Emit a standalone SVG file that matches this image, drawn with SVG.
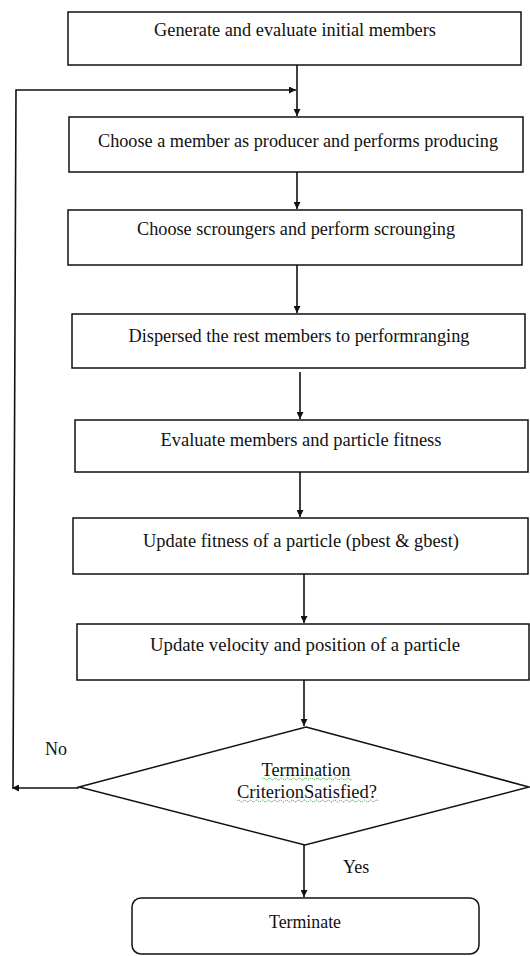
<svg xmlns="http://www.w3.org/2000/svg" width="530" height="956" viewBox="0 0 530 956">
<style>
.box{fill:#fff;stroke:#111;stroke-width:1.5}
.t{font-family:"Liberation Serif","Times New Roman",serif;font-size:18.5px;fill:#111;text-anchor:middle;lengthAdjust:spacingAndGlyphs}
.lbl{font-family:"Liberation Serif","Times New Roman",serif;font-size:18px;fill:#111}
.c{fill:none;stroke:#111;stroke-width:1.6}
.wave{fill:none;stroke:#3a3;stroke-width:1;stroke-dasharray:1.5 1}
</style>
<defs>
<marker id="ah" viewBox="0 0 10 10" refX="10" refY="5" markerWidth="7" markerHeight="7" orient="auto" markerUnits="userSpaceOnUse">
<path d="M0,0 L10,5 L0,10 z" fill="#111"/>
</marker>
</defs>
<rect width="530" height="956" fill="#fff"/>
<g id="connectors">
<line class="c" x1="297" y1="65" x2="297" y2="116" marker-end="url(#ah)"/>
<line class="c" x1="297" y1="172" x2="297" y2="209" marker-end="url(#ah)"/>
<line class="c" x1="297" y1="265" x2="297" y2="313" marker-end="url(#ah)"/>
<line class="c" x1="300" y1="372" x2="300" y2="419" marker-end="url(#ah)"/>
<line class="c" x1="300" y1="472" x2="300" y2="517" marker-end="url(#ah)"/>
<line class="c" x1="304" y1="574" x2="304" y2="623" marker-end="url(#ah)"/>
<line class="c" x1="304" y1="680" x2="304" y2="726" marker-end="url(#ah)"/>
<line class="c" x1="304" y1="845" x2="304" y2="897" marker-end="url(#ah)"/>
<line class="c" x1="79" y1="788" x2="12" y2="788" marker-end="url(#ah)"/>
<polyline class="c" points="13,788 16,90 296,90" marker-end="url(#ah)"/>
</g>
<g id="n1"><rect class="box" x="68" y="12" width="453" height="53"/><text class="t" x="295" y="36" textLength="282" lengthAdjust="spacingAndGlyphs">Generate and evaluate initial members</text></g>
<g id="n2"><rect class="box" x="69" y="117" width="454" height="55"/><text class="t" x="298" y="147" textLength="400" lengthAdjust="spacingAndGlyphs">Choose a member as producer and performs producing</text></g>
<g id="n3"><rect class="box" x="68" y="210" width="454" height="55"/><text class="t" x="296" y="235" textLength="318" lengthAdjust="spacingAndGlyphs">Choose scroungers and perform scrounging</text></g>
<g id="n4"><rect class="box" x="72" y="314" width="453" height="54"/><text class="t" x="299" y="342" textLength="341" lengthAdjust="spacingAndGlyphs">Dispersed the rest members to performranging</text></g>
<g id="n5"><rect class="box" x="75" y="420" width="453" height="52"/><text class="t" x="301" y="446" textLength="281" lengthAdjust="spacingAndGlyphs">Evaluate members and particle fitness</text></g>
<g id="n6"><rect class="box" x="73" y="518" width="455" height="56"/><text class="t" x="301" y="547" textLength="316" lengthAdjust="spacingAndGlyphs">Update fitness of a particle (pbest &amp; gbest)</text></g>
<g id="n7"><rect class="box" x="77" y="624" width="452" height="56"/><text class="t" x="305" y="651" textLength="310" lengthAdjust="spacingAndGlyphs">Update velocity and position of a particle</text></g>
<g id="n8">
<polygon class="box" points="306,727 529,787 305,845 79,787"/>
<text class="t" x="306" y="776" textLength="89" lengthAdjust="spacingAndGlyphs">Termination</text>
<text class="t" x="307" y="798" textLength="140" lengthAdjust="spacingAndGlyphs">CriterionSatisfied?</text>
<path class="wave" d="M262,779 q1.5,-2 3,0 t3,0 t3,0 t3,0 t3,0 t3,0 t3,0 t3,0 t3,0 t3,0 t3,0 t3,0 t3,0 t3,0 t3,0 t3,0 t3,0 t3,0 t3,0 t3,0 t3,0 t3,0 t3,0 t3,0 t3,0 t3,0 t3,0 t3,0 t3,0 t3,0"/>
<path class="wave" d="M237,801 q1.5,-2 3,0 t3,0 t3,0 t3,0 t3,0 t3,0 t3,0 t3,0 t3,0 t3,0 t3,0 t3,0 t3,0 t3,0 t3,0 t3,0 t3,0 t3,0 t3,0 t3,0 t3,0 t3,0 t3,0 t3,0 t3,0 t3,0 t3,0 t3,0 t3,0 t3,0 t3,0 t3,0 t3,0 t3,0 t3,0 t3,0 t3,0 t3,0 t3,0 t3,0 t3,0 t3,0 t3,0 t3,0 t3,0 t3,0 t3,0"/>
</g>
<g id="n9"><rect class="box" x="132" y="898" width="347" height="56" rx="9"/><text class="t" x="305" y="928" textLength="72" lengthAdjust="spacingAndGlyphs">Terminate</text></g>
<g id="labels">
<text class="lbl" x="45" y="755">No</text>
<text class="lbl" x="343" y="873">Yes</text>
</g>
</svg>
